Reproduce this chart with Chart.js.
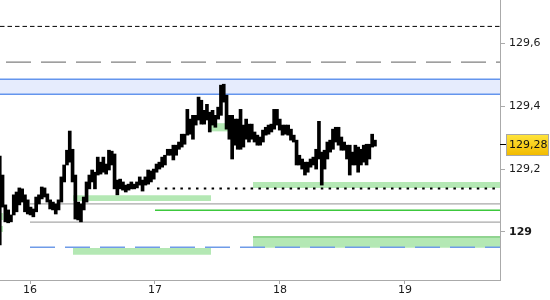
<!DOCTYPE html>
<html>
<head>
<meta charset="utf-8">
<script src="https://cdn.jsdelivr.net/npm/chart.js@4.4.1/dist/chart.umd.min.js"></script>
<style>
  html, body { margin: 0; padding: 0; background: #fff; }
</style>
</head>
<body>
<canvas id="chart" width="550" height="300"></canvas>
<script>
// Price bars (30 min), low / high
const priceLow = [
  128.959, 129.079, 129.032, 129.029, 129.032, 129.054, 129.064, 129.086, 129.095, 129.064,
  129.057, 129.054, 129.048, 129.064, 129.089, 129.105, 129.111, 129.095, 129.073, 129.070,
  129.057, 129.070, 129.095, 129.159, 129.213, 129.222, 129.159, 129.041, 129.038, 129.032,
  129.070, 129.095, 129.137, 129.159, 129.137, 129.181, 129.184, 129.190, 129.184, 129.197,
  129.213, 129.137, 129.118, 129.137, 129.133, 129.127, 129.133, 129.137, 129.137, 129.140,
  129.149, 129.130, 129.149, 129.152, 129.159, 129.168, 129.190, 129.200, 129.206, 129.213,
  129.244, 129.244, 129.229, 129.244, 129.263, 129.270, 129.279, 129.308, 129.311, 129.295,
  129.340, 129.356, 129.343, 129.343, 129.356, 129.318, 129.340, 129.333, 129.359, 129.371,
  129.413, 129.327, 129.295, 129.232, 129.276, 129.263, 129.263, 129.270, 129.295, 129.286,
  129.295, 129.286, 129.276, 129.276, 129.286, 129.308, 129.311, 129.318, 129.327, 129.340,
  129.324, 129.308, 129.311, 129.308, 129.292, 129.286, 129.213, 129.213, 129.200, 129.181,
  129.190, 129.206, 129.213, 129.200, 129.232, 129.149, 129.200, 129.232, 129.254, 129.263,
  129.286, 129.276, 129.260, 129.260, 129.232, 129.181, 129.213, 129.213, 129.190, 129.213,
  129.222, 129.213, 129.232, 129.270, 129.273
];
const priceHigh = [
  129.241, 129.181, 129.086, 129.070, 129.054, 129.118, 129.127, 129.140, 129.137, 129.118,
  129.102, 129.079, 129.073, 129.111, 129.118, 129.143, 129.140, 129.121, 129.102, 129.095,
  129.089, 129.102, 129.175, 129.213, 129.260, 129.321, 129.263, 129.181, 129.095, 129.089,
  129.111, 129.159, 129.181, 129.197, 129.190, 129.238, 129.222, 129.238, 129.216, 129.260,
  129.257, 129.248, 129.165, 129.168, 129.159, 129.149, 129.152, 129.159, 129.152, 129.159,
  129.175, 129.165, 129.175, 129.197, 129.194, 129.200, 129.216, 129.222, 129.238, 129.244,
  129.263, 129.263, 129.276, 129.276, 129.286, 129.311, 129.311, 129.390, 129.359, 129.371,
  129.371, 129.429, 129.419, 129.387, 129.406, 129.381, 129.387, 129.371, 129.397, 129.467,
  129.470, 129.435, 129.371, 129.371, 129.359, 129.359, 129.390, 129.340, 129.359, 129.343,
  129.343, 129.318, 129.308, 129.302, 129.324, 129.333, 129.340, 129.343, 129.390, 129.390,
  129.359, 129.340, 129.340, 129.340, 129.327, 129.308, 129.292, 129.244, 129.232, 129.222,
  129.222, 129.232, 129.238, 129.263, 129.352, 129.254, 129.260, 129.286, 129.292, 129.327,
  129.333, 129.333, 129.302, 129.286, 129.276, 129.276, 129.254, 129.276, 129.270, 129.263,
  129.276, 129.279, 129.279, 129.311, 129.292
];
const barStart = 15.758;   // time (days) of first bar
const barStep = 0.0224;    // one bar = ~30 min
const lastPrice = 129.28;

// axis
const xMin = 15.76, xMax = 19.76;
const yMin = 128.847, yMax = 129.738;
const xTicks = [16, 17, 18, 19];
const yTicks = [129, 129.2, 129.4, 129.6];

// horizontal levels
const levelValue = [129.654, 129.54, 129.138, 129.089, 129.069, 129.031, 128.951, 128.984];
const levelFrom  = [15.76,   15.76,  17.016,  16.0,    17.0,    16.0,    16.0,    17.784];

// blue band
const bandLow = 129.438, bandHigh = 129.486;

// green zones
const zoneFrom = [16.344, 16.344, 17.784, 17.784, 17.424, 15.76, 15.76];
const zoneTo   = [17.448, 17.448, 19.76,  19.76,  17.632, 15.784, 15.784];
const zoneLow  = [129.098, 128.927, 129.140, 128.950, 129.320, 129.038, 129.000];
const zoneHigh = [129.117, 128.949, 129.159, 128.984, 129.346, 129.060, 129.019];

// styles for the levels (same order as levelValue)
const levelStyle = [
  { color: '#000000', width: 1, dash: [4.5, 3], offset: 0 },
  { color: '#808080', width: 1.2, dash: [25, 10], offset: 29 },
  { color: '#000000', width: 2, dash: [2.5, 5.3], offset: 0 },
  { color: '#a8a8a8', width: 1.2, dash: [], offset: 0 },
  { color: '#3cc83c', width: 1.5, dash: [], offset: 0 },
  { color: '#a8a8a8', width: 1.2, dash: [], offset: 0 },
  { color: '#6f9be8', width: 1.5, dash: [25, 10], offset: 0 },
  { color: '#6cc46c', width: 1.2, dash: [], offset: 0 }
];

const datasets = [];

datasets.push({
  type: 'bar',
  data: priceLow.map((lo, i) => ({ x: barStart + i * barStep, y: [lo, priceHigh[i]] })),
  backgroundColor: '#000',
  borderWidth: 0,
  barThickness: 3,
  order: 0
});

levelValue.forEach((v, i) => {
  const s = levelStyle[i];
  datasets.push({
    type: 'line',
    data: [{ x: levelFrom[i], y: v }, { x: xMax, y: v }],
    borderColor: s.color,
    borderWidth: s.width,
    borderDash: s.dash,
    borderDashOffset: s.offset,
    pointRadius: 0,
    fill: false,
    order: 2
  });
});

// blue band fill + edges
datasets.push({
  type: 'line',
  data: [{ x: xMin, y: bandHigh }, { x: xMax, y: bandHigh }],
  borderWidth: 0,
  pointRadius: 0,
  fill: { value: bandLow },
  backgroundColor: '#e6ecfd',
  order: 5
});
[bandLow, bandHigh].forEach(v => {
  datasets.push({
    type: 'line',
    data: [{ x: xMin, y: v }, { x: xMax, y: v }],
    borderColor: '#6495ed',
    borderWidth: 1.5,
    pointRadius: 0,
    fill: false,
    order: 4
  });
});

zoneFrom.forEach((f, i) => {
  datasets.push({
    type: 'line',
    data: [{ x: f, y: zoneHigh[i] }, { x: zoneTo[i], y: zoneHigh[i] }],
    borderWidth: 0,
    pointRadius: 0,
    fill: { value: zoneLow[i] },
    backgroundColor: '#b4e8b4',
    order: 3
  });
});

const priceTag = {
  id: 'priceTag',
  afterDraw(chart) {
    const ctx = chart.ctx;
    const y = Math.round(chart.scales.y.getPixelForValue(lastPrice));
    const x0 = chart.chartArea.right;
    ctx.save();
    ctx.strokeStyle = '#000';
    ctx.lineWidth = 1;
    ctx.beginPath();
    ctx.moveTo(x0, y + 0.5);
    ctx.lineTo(x0 + 6, y + 0.5);
    ctx.stroke();
    const g = ctx.createLinearGradient(0, y - 10, 0, y + 11);
    g.addColorStop(0, '#ffe53d');
    g.addColorStop(1, '#f2bb00');
    ctx.fillStyle = g;
    ctx.fillRect(x0 + 6.5, y - 9.5, 42, 21);
    ctx.strokeStyle = '#a8a8a8';
    ctx.strokeRect(x0 + 6.5, y - 9.5, 42, 21);
    ctx.fillStyle = '#111';
    ctx.font = '11px "DejaVu Sans"';
    ctx.textBaseline = 'middle';
    ctx.fillText(lastPrice.toFixed(2).replace('.', ','), x0 + 9, y + 1.5);
    ctx.restore();
  }
};

new Chart(document.getElementById('chart'), {
  type: 'bar',
  data: { datasets },
  options: {
    responsive: false,
    animation: false,
    layout: { padding: 0 },
    plugins: { legend: { display: false }, tooltip: { enabled: false } },
    scales: {
      x: {
        type: 'linear',
        min: xMin,
        max: xMax,
        offset: false,
        afterBuildTicks: s => { s.ticks = xTicks.map(v => ({ value: v })); },
        afterFit: s => { s.height = 20; s.paddingLeft = 0; s.paddingRight = 0; },
        grid: { drawOnChartArea: false, drawTicks: true, tickLength: 4, color: '#aaa', offset: false },
        border: { display: true, color: '#aaa' },
        ticks: {
          padding: 0,
          color: '#1a1a1a',
          font: { family: 'DejaVu Sans', size: 11 },
          maxRotation: 0,
          callback: v => String(v)
        }
      },
      y: {
        position: 'right',
        min: yMin,
        max: yMax,
        afterBuildTicks: s => { s.ticks = yTicks.map(v => ({ value: v })); },
        afterFit: s => { s.width = 50; s.paddingTop = 0; s.paddingBottom = 0; },
        grid: { drawOnChartArea: false, drawTicks: true, tickLength: 5, color: '#aaa' },
        border: { display: true, color: '#aaa' },
        ticks: {
          padding: 4,
          color: '#1a1a1a',
          font: c => ({ family: 'DejaVu Sans', size: 11, weight: c.tick && c.tick.value === 129 ? 'bold' : 'normal' }),
          callback: v => String(Math.round(v * 10) / 10).replace('.', ',')
        }
      }
    }
  },
  plugins: [priceTag]
});
</script>
</body>
</html>
